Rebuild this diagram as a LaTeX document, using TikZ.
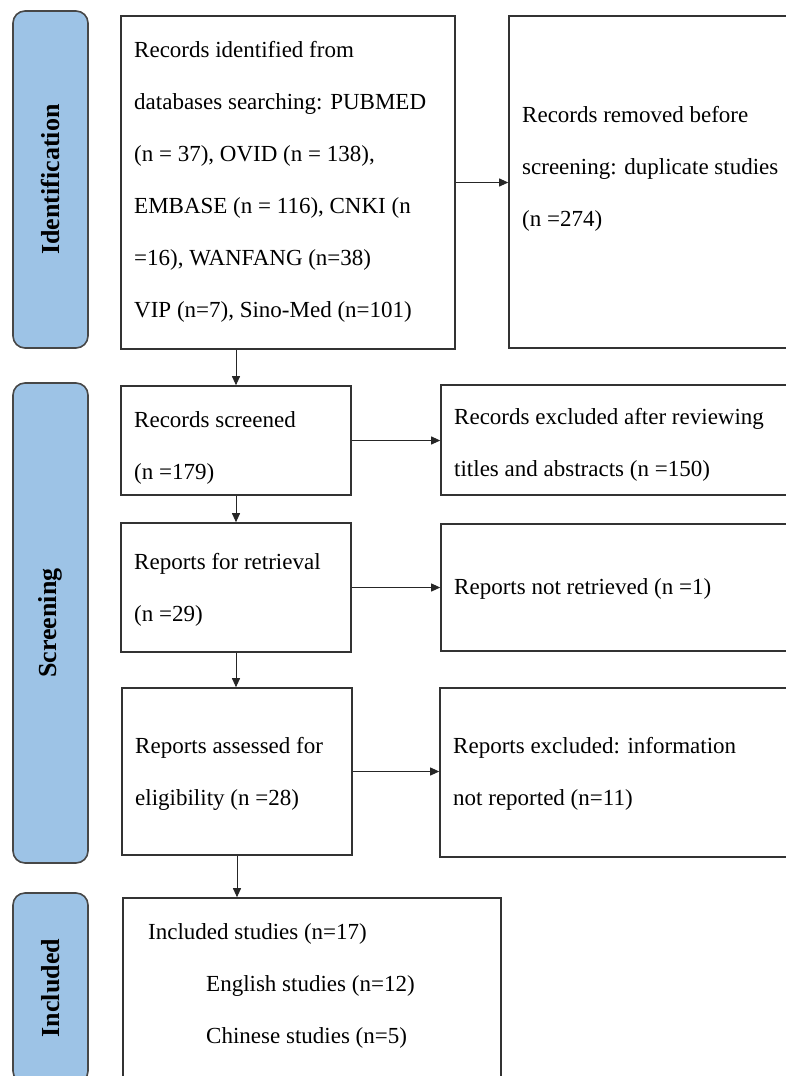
\documentclass[tikz,border=0pt]{standalone}
\usepackage{fontspec}
\setmainfont{Liberation Serif}
\usetikzlibrary{arrows.meta}

\definecolor{stageblue}{RGB}{157,195,230}
\definecolor{boxgray}{RGB}{51,51,51}

\tikzset{
  stage/.style={draw=boxgray!90, line width=1.6pt, fill=stageblue, rounded corners=12pt,
    rotate=90, inner sep=0pt, font=\fontsize{26}{30}\selectfont\bfseries},
  box/.style={draw=boxgray, line width=1.6pt, inner sep=0pt},
  txt/.style={anchor=west, inner sep=0pt, align=left, font=\fontsize{23}{52}\selectfont},
  link/.style={-{Triangle[length=9pt,width=8pt]}, line width=0.9pt, black!85},
}

\begin{document}
\begin{tikzpicture}[x=1pt,y=-1pt]
  \clip (0,0) rectangle (786,1076);

  % stages
  \node[stage, minimum width=337pt, minimum height=75pt] (idstage) at (50.5,179.5) {Identification};
  \node[stage, minimum width=480pt, minimum height=75pt] (scstage) at (50.5,623) {Screening};
  \node[stage, minimum width=190pt, minimum height=75pt] (instage) at (50.5,988) {Included};

  % boxes
  \node[box, minimum width=334pt, minimum height=333pt] (idbox) at (288,182.5) {};
  \node[box, minimum width=301pt, minimum height=332pt] (rembox) at (659.5,182) {};
  \node[box, minimum width=230pt, minimum height=109pt] (scrbox) at (236,440.5) {};
  \node[box, minimum width=369pt, minimum height=110pt] (exabox) at (625.5,440) {};
  \node[box, minimum width=230pt, minimum height=129pt] (retbox) at (236,587.5) {};
  \node[box, minimum width=369pt, minimum height=127pt] (notbox) at (625.5,587.5) {};
  \node[box, minimum width=230pt, minimum height=167pt] (assbox) at (237,771.5) {};
  \node[box, minimum width=370pt, minimum height=169pt] (exrbox) at (625,772.5) {};
  \node[box, minimum width=378pt, minimum height=202pt] (incbox) at (312,999) {};

  % texts
  \node[txt] (idtxt) at (134,182) {Records identified from\\databases searching: PUBMED\\(n = 37), OVID (n = 138),\\EMBASE (n = 116), CNKI (n\\=16), WANFANG (n=38)\\VIP (n=7), Sino-Med (n=101)};
  \node[txt] (remtxt) at (522,169) {Records removed before\\screening: duplicate studies\\(n =274)};
  \node[txt] (scrtxt) at (134,447.5) {Records screened\\(n =179)};
  \node[txt] (exatxt) at (454,445) {Records excluded after reviewing\\titles and abstracts (n =150)};
  \node[txt] (rettxt) at (134,589.5) {Reports for retrieval\\(n =29)};
  \node[txt] (nottxt) at (454,589) {Reports not retrieved (n =1)};
  \node[txt] (asstxt) at (135,774) {Reports assessed for\\eligibility (n =28)};
  \node[txt] (exrtxt) at (453,774) {Reports excluded: information\\not reported (n=11)};
  \node[txt] (inctxt) at (148,985.5) {Included studies (n=17)\\\hspace*{58pt}English studies (n=12)\\\hspace*{58pt}Chinese studies (n=5)};

  % arrows
  \draw[link] (scrbox.north |- idbox.south) -- (scrbox.north);
  \draw[link] (scrbox.south) -- (retbox.north);
  \draw[link] (retbox.south) -- (retbox.south |- assbox.north);
  \draw[link] (assbox.south) -- (assbox.south |- incbox.north);
  \draw[link] (idbox.east) -- (idbox.east -| rembox.west);
  \draw[link] (scrbox.east) -- (scrbox.east -| exabox.west);
  \draw[link] (retbox.east) -- (retbox.east -| notbox.west);
  \draw[link] (assbox.east) -- (assbox.east -| exrbox.west);

\end{tikzpicture}
\end{document}
